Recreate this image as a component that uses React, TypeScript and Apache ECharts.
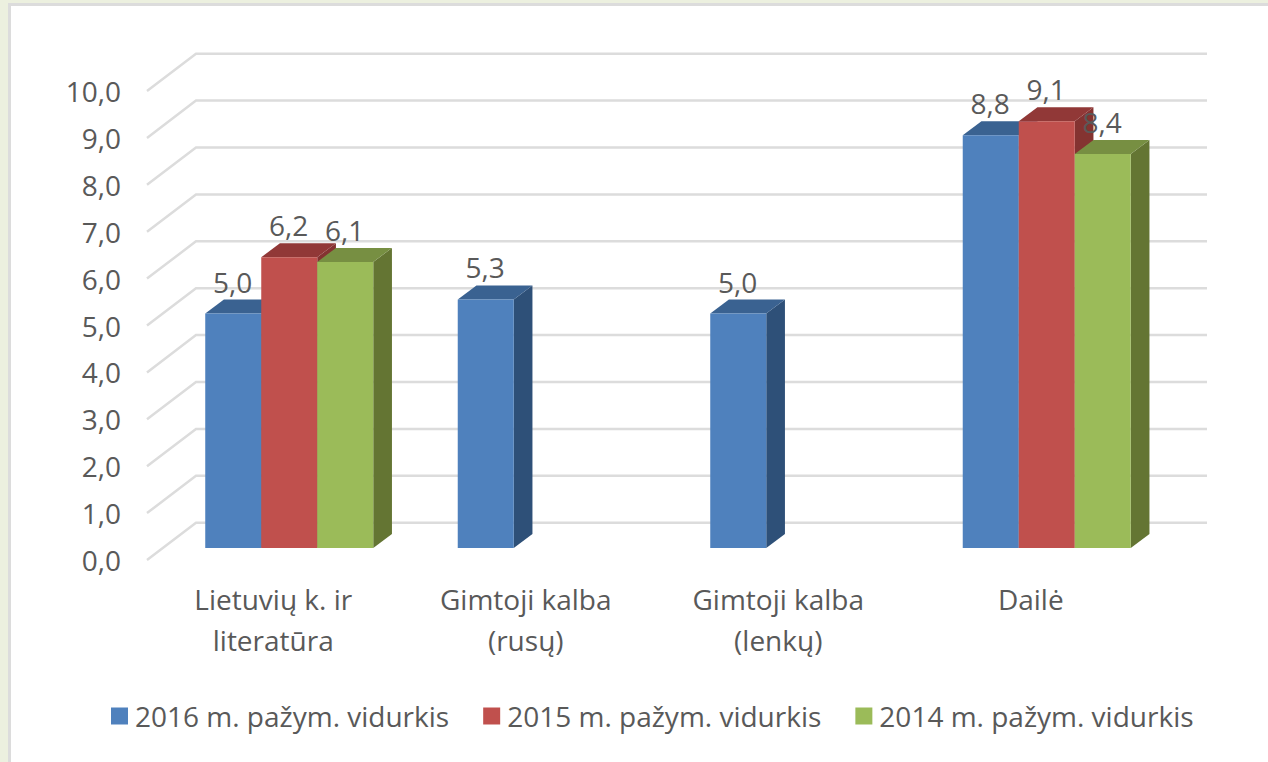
import React, { useEffect, useRef } from "react";
import * as echarts from "echarts";

const categories = ["Lietuvių k. ir\nliteratūra", "Gimtoji kalba\n(rusų)", "Gimtoji kalba\n(lenkų)", "Dailė"];
const seriesNames = ["2016 m. pažym. vidurkis", "2015 m. pažym. vidurkis", "2014 m. pažym. vidurkis"];
const values2016 = [5.0, 5.3, 5.0, 8.8];
const values2015 = [6.2, null, null, 9.1];
const values2014 = [6.1, null, null, 8.4];
const wallTicks = [0, 1, 2, 3, 4, 5, 6, 7, 8, 9, 10];

const palette = [
  { front: "#4F81BD", top: "#3A6291", side: "#2E5078" },
  { front: "#C0504D", top: "#913837", side: "#843331" },
  { front: "#9BBB59", top: "#778F42", side: "#647533" },
];
const TEXT = "#595959";
const FONT = "'Open Sans', Lato, sans-serif";
const FONT_SIZE = 28;
const WALL = { dx: 49, dy: -37.3, extra: 1 };
const PLANE = { dx: 16, dy: -12 };
const DEPTH = { dx: 18.7, dy: -14 };

const fmt = (v: number) => v.toFixed(1).replace(".", ",");

function wallItem(params: any, api: any) {
  const v = api.value(1);
  const cs = params.coordSys;
  const y = api.coord([0, v])[1];
  return {
    type: "polyline",
    silent: true,
    shape: {
      points: [
        [cs.x, y],
        [cs.x + WALL.dx, y + WALL.dy],
        [cs.x + cs.width + WALL.dx + WALL.extra, y + WALL.dy],
      ],
    },
    style: { stroke: "#DCDCDC", lineWidth: 2.5, fill: "none" },
  };
}

function barItem(seriesIndex: number) {
  return (params: any, api: any) => {
    const v = api.value(1);
    if (v === null || v === undefined || Number.isNaN(v)) return null;
    const cat = api.value(0);
    const bandW = api.size([1, 0])[0];
    const w = bandW * 0.2218;
    const c = palette[seriesIndex];
    const [cx, yTop0] = api.coord([cat, v]);
    const yBase0 = api.coord([cat, 0])[1];
    const x0 = cx + PLANE.dx - 1.5 * w + seriesIndex * w;
    const x1 = x0 + w;
    const yT = yTop0 + PLANE.dy;
    const yB = yBase0 + PLANE.dy;
    const d = DEPTH;
    return {
      type: "group",
      children: [
        {
          type: "polygon",
          shape: { points: [[x1, yT], [x1 + d.dx, yT + d.dy], [x1 + d.dx, yB + d.dy], [x1, yB]] },
          style: { fill: c.side },
        },
        {
          type: "polygon",
          shape: { points: [[x0, yT], [x0 + d.dx, yT + d.dy], [x1 + d.dx, yT + d.dy], [x1, yT]] },
          style: { fill: c.top },
        },
        { type: "rect", shape: { x: x0, y: yT, width: w, height: yB - yT }, style: { fill: c.front } },
        {
          type: "text",
          z2: 100,
          style: {
            text: fmt(v),
            x: (x0 + x1) / 2 - 0.5,
            y: yT - 32,
            textAlign: "center",
            textVerticalAlign: "middle",
            fill: TEXT,
            font: `${FONT_SIZE}px ${FONT}`,
          },
        },
      ],
    };
  };
}

const toRows = (vals: (number | null)[]) => vals.map((v, i) => [i, v]);

export default function App() {
  const ref = useRef<HTMLDivElement>(null);
  useEffect(() => {
    document.body.style.margin = "0";
    const chart = echarts.init(ref.current!, undefined, { renderer: "svg" });
    chart.setOption({
      animation: false,
      backgroundColor: "#ECF0DF",
      graphic: [
        {
          type: "rect",
          z: -10,
          silent: true,
          shape: { x: 9.5, y: 4.5, width: 1270, height: 770 },
          style: { fill: "#FFFFFF", stroke: "#DCDCDC", lineWidth: 3 },
        },
      ],
      grid: { left: 147, width: 1010, top: 91, height: 469, containLabel: false },
      xAxis: {
        type: "category",
        data: categories,
        axisLine: { show: false },
        axisTick: { show: false },
        splitLine: { show: false },
        axisLabel: {
          interval: 0,
          margin: 18,
          color: TEXT,
          fontFamily: FONT,
          fontSize: FONT_SIZE,
          lineHeight: 41,
        },
      },
      yAxis: {
        type: "value",
        min: 0,
        max: 10,
        interval: 1,
        axisLine: { show: false },
        axisTick: { show: false },
        splitLine: { show: false },
        axisLabel: {
          margin: 26,
          color: TEXT,
          fontFamily: FONT,
          fontSize: FONT_SIZE,
          formatter: (v: number) => fmt(v),
        },
      },
      legend: {
        left: 106,
        top: 697,
        icon: "rect",
        itemWidth: 17,
        itemHeight: 17,
        itemGap: 34,
        data: seriesNames,
        selectedMode: false,
        textStyle: { color: TEXT, fontFamily: FONT, fontSize: FONT_SIZE, padding: [0, 0, 0, 2] },
      },
      series: [
        {
          type: "custom",
          name: "wall",
          silent: true,
          clip: false,
          renderItem: wallItem,
          encode: { x: 0, y: 1 },
          data: wallTicks.map((t) => [0, t]),
        },
        ...[values2016, values2015, values2014].map((vals, i) => ({
          type: "custom",
          name: seriesNames[i],
          clip: false,
          itemStyle: { color: palette[i].front },
          renderItem: barItem(i),
          encode: { x: 0, y: 1 },
          data: toRows(vals),
        })),
      ],
    });
    return () => chart.dispose();
  }, []);
  return <div ref={ref} style={{ position: "absolute", left: 0, top: 0, width: 1268, height: 762 }} />;
}
